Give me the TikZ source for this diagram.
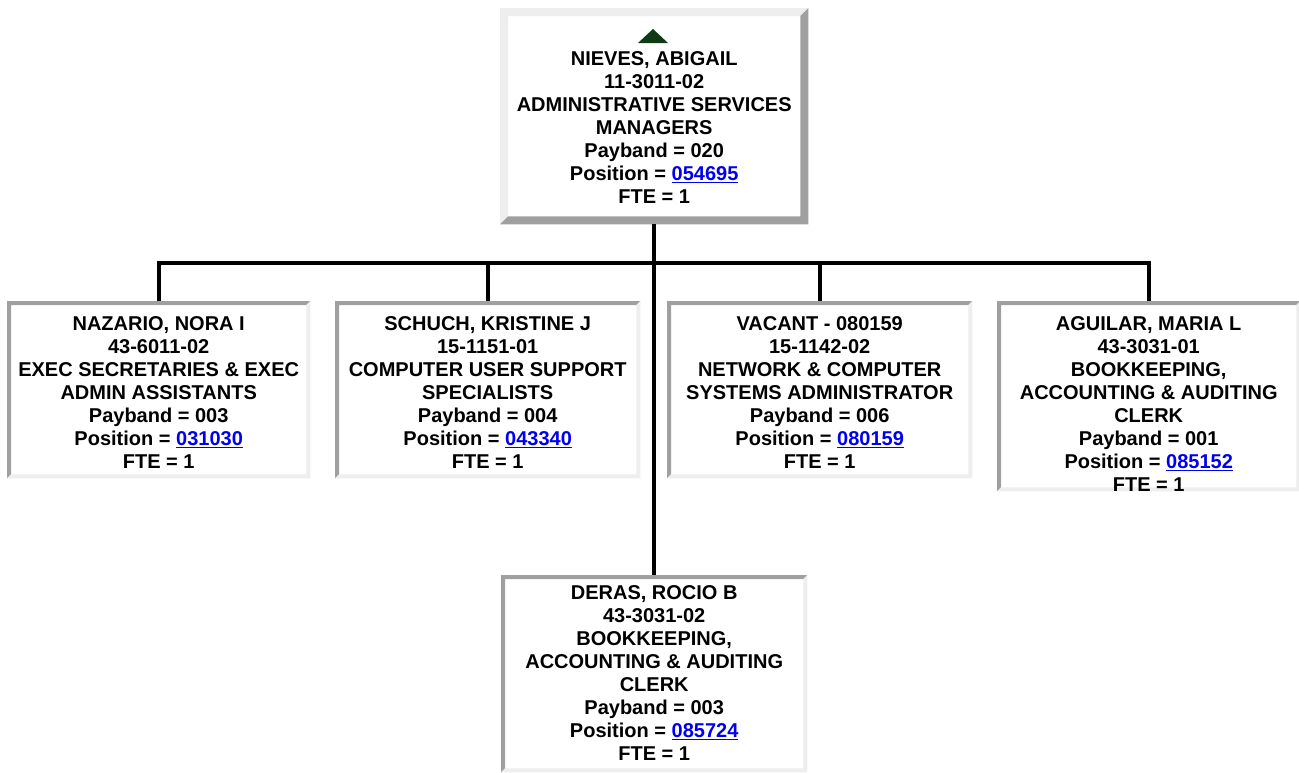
\documentclass[tikz,border=0pt]{standalone}
\usepackage{fontspec}
\setmainfont{Liberation Sans}
\definecolor{bdark}{HTML}{A0A0A0}
\definecolor{blight}{HTML}{EEEEEE}
\definecolor{linkblue}{HTML}{0000EE}
\definecolor{arrowgreen}{HTML}{103A14}
\definecolor{txtcol}{HTML}{000000}
\newcommand\bevelbox[4]{%
  \fill[#3] (#1.south west) -- (#1.north west) -- (#1.north east)
    -- ([xshift=-#2pt,yshift=-#2pt]#1.north east) -- ([xshift=#2pt,yshift=-#2pt]#1.north west)
    -- ([xshift=#2pt,yshift=#2pt]#1.south west) -- cycle;
  \fill[#4] (#1.south west) -- (#1.south east) -- (#1.north east)
    -- ([xshift=-#2pt,yshift=-#2pt]#1.north east) -- ([xshift=-#2pt,yshift=#2pt]#1.south east)
    -- ([xshift=#2pt,yshift=#2pt]#1.south west) -- cycle;}
\newcommand\poslink[1]{\textcolor{linkblue}{\underline{#1}}}
\begin{document}
\begin{tikzpicture}[x=1pt,y=-1pt,
  card/.style={rectangle, fill=white, inner sep=0pt, anchor=north west},
  cardtext/.style={anchor=north, inner sep=0pt, align=center, text=txtcol,
    font=\bfseries\fontsize{20}{23}\selectfont},
  conn/.style={draw=black, line width=4pt, line join=miter}]
\useasboundingbox (0,0) rectangle (1299,772);
\fill[white] (0,0) rectangle (1299,772);
% boxes
\node[card, minimum width=308pt, minimum height=216pt] (top) at (500,8) {};
\node[card, minimum width=303pt, minimum height=177pt] (naz) at (7,301) {};
\node[card, minimum width=305pt, minimum height=177pt] (sch) at (335,301) {};
\node[card, minimum width=305pt, minimum height=177pt] (vac) at (667,301) {};
\node[card, minimum width=303pt, minimum height=190pt] (agu) at (997,301) {};
\node[card, minimum width=306pt, minimum height=197pt] (der) at (501,575) {};
\bevelbox{top}{8}{blight}{bdark}
\bevelbox{naz}{4}{bdark}{blight}
\bevelbox{sch}{4}{bdark}{blight}
\bevelbox{vac}{4}{bdark}{blight}
\bevelbox{agu}{4}{bdark}{blight}
\bevelbox{der}{4}{bdark}{blight}
% triangle
\fill[arrowgreen] (638,43) -- (668,43) -- (653,29) -- cycle;
% texts
\node[cardtext] (ttop) at ([yshift=-43pt]top.north) {NIEVES, ABIGAIL\\11-3011-02\\ADMINISTRATIVE SERVICES\\MANAGERS\\Payband = 020\\Position = \poslink{054695}\\FTE = 1};
\node[cardtext] (tnaz) at ([yshift=-15pt]naz.north) {NAZARIO, NORA I\\43-6011-02\\EXEC SECRETARIES \& EXEC\\ADMIN ASSISTANTS\\Payband = 003\\Position = \poslink{031030}\\FTE = 1};
\node[cardtext] (tsch) at ([yshift=-15pt]sch.north) {SCHUCH, KRISTINE J\\15-1151-01\\COMPUTER USER SUPPORT\\SPECIALISTS\\Payband = 004\\Position = \poslink{043340}\\FTE = 1};
\node[cardtext] (tvac) at ([yshift=-15pt]vac.north) {VACANT - 080159\\15-1142-02\\NETWORK \& COMPUTER\\SYSTEMS ADMINISTRATOR\\Payband = 006\\Position = \poslink{080159}\\FTE = 1};
\node[cardtext] (tagu) at ([yshift=-15pt]agu.north) {AGUILAR, MARIA L\\43-3031-01\\BOOKKEEPING,\\ACCOUNTING \& AUDITING\\CLERK\\Payband = 001\\Position = \poslink{085152}\\FTE = 1};
\node[cardtext] (tder) at ([yshift=-10pt]der.north) {DERAS, ROCIO B\\43-3031-02\\BOOKKEEPING,\\ACCOUNTING \& AUDITING\\CLERK\\Payband = 003\\Position = \poslink{085724}\\FTE = 1};
% connectors
\coordinate (bus) at (654,263);
\draw[conn] (top.south) -- (top.south |- der.north);
\draw[conn] (naz.north) -- (naz.north |- bus) -- (agu.north |- bus) -- (agu.north);
\draw[conn] (sch.north) -- (sch.north |- bus);
\draw[conn] (vac.north) -- (vac.north |- bus);
\end{tikzpicture}
\end{document}
